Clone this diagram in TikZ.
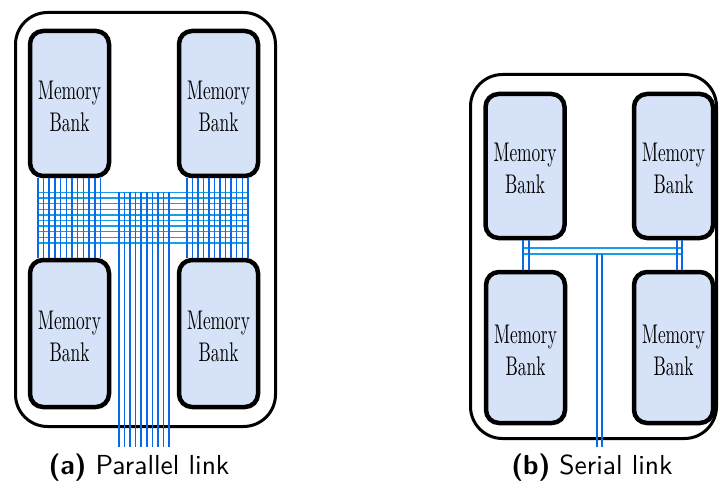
\documentclass[tikz,border=0pt]{standalone}
\usepackage{graphicx}
\usetikzlibrary{calc}
\definecolor{bankfill}{RGB}{214,226,248}
\definecolor{vwirec}{RGB}{10,105,230}
\definecolor{hwirec}{RGB}{20,160,230}
\newcommand{\mbtext}{\rule{0pt}{24pt}\scalebox{1.74}[2.7]{Memory}\\\scalebox{1.74}[2.7]{Bank}}
\newcommand{\captxt}[2]{\scalebox{2.75}{\textbf{#1} #2}}
\tikzset{
  bank/.style={draw=black, line width=4.5pt, fill=bankfill, rounded corners=13pt,
    minimum width=79pt, minimum height=145pt, inner sep=0pt, align=center,
    font=\fontsize{10}{32}\selectfont},
  outerbox/.style={draw=black, line width=3pt, rounded corners=32pt, inner sep=0pt},
  vwire/.style={draw=vwirec, line width=1.5pt},
  hwire/.style={draw=hwirec, line width=1.5pt},
  caption/.style={font=\sffamily\fontsize{10}{12}\selectfont, inner sep=0pt}
}
\begin{document}
\begin{tikzpicture}[x=1pt,y=-1pt]
\useasboundingbox (0,0) rectangle (720,497);
% ---------- (a) parallel ----------
\node[outerbox, minimum width=260pt, minimum height=414pt] (oa) at (145.5,219.5) {};
\node[bank] (a1) at (69.5,103.5) {\mbtext};
\node[bank] (a2) at (218.5,103.5) {\mbtext};
\node[bank, minimum height=147pt] (a3) at (69.5,333.5) {\mbtext};
\node[bank, minimum height=147pt] (a4) at (218.5,333.5) {\mbtext};
% horizontal bus lines
\coordinate (hl) at ([xshift=10pt]a1.south west);
\coordinate (hr) at ([xshift=71pt]a2.south west);
\foreach \k in {0,...,9}{
  \draw[hwire] ($(hl|-0,192.5)+(0,5.6*\k)$) -- ($(hr|-0,192.5)+(0,5.6*\k)$);
}
% vertical wires
\foreach \k in {0,...,11}{
  \draw[vwire] ([xshift={10+5.7*\k}]a1.south west) -- ([xshift={10+5.7*\k}]a3.north west);
  \draw[vwire] ([xshift={10+5.55*\k}]a2.south west) -- ([xshift={10+5.55*\k}]a4.north west);
}
\coordinate (ca) at (119,192.5);
\coordinate (cb) at (119,447);
\foreach \k in {0,...,9}{
  \draw[vwire] ([xshift={5.56*\k}]ca) -- ([xshift={5.56*\k}]cb);
}
\node[caption] (capa) at (139,468) {\captxt{(a)}{Parallel link}};
% ---------- (b) serial ----------
\node[outerbox, minimum width=246pt, minimum height=364pt] (ob) at (593.5,256.5) {};
\node[bank, minimum height=144pt] (b1) at (525,166) {\mbtext};
\node[bank, minimum height=144pt] (b2) at (673.5,166) {\mbtext};
\node[bank, minimum height=151pt] (b3) at (525.5,347.5) {\mbtext};
\node[bank, minimum height=151pt] (b4) at (673.5,347.5) {\mbtext};
\coordinate (sl) at (523,254);
\coordinate (sr) at (682,254);
\draw[hwire] (sl) -- (sr);
\draw[hwire] ([yshift=6pt]sl) -- ([yshift=6pt]sr);
\draw[vwire] (b1.south -| sl) -- (b3.north -| sl);
\draw[vwire] ([xshift=6pt]b1.south -| sl) -- ([xshift=6pt]b3.north -| sl);
\draw[vwire] ([xshift=-5pt]b2.south -| sr) -- ([xshift=-5pt]b4.north -| sr);
\draw[vwire] (b2.south -| sr) -- (b4.north -| sr);
\coordinate (cs) at (597,254);
\coordinate (ct) at (597,447);
\draw[vwire] (cs) -- (ct);
\draw[vwire] ([xshift=5pt]cs) -- ([xshift=5pt]ct);
\node[caption] (capb) at (592,468) {\captxt{(b)}{Serial link}};
\end{tikzpicture}
\end{document}
